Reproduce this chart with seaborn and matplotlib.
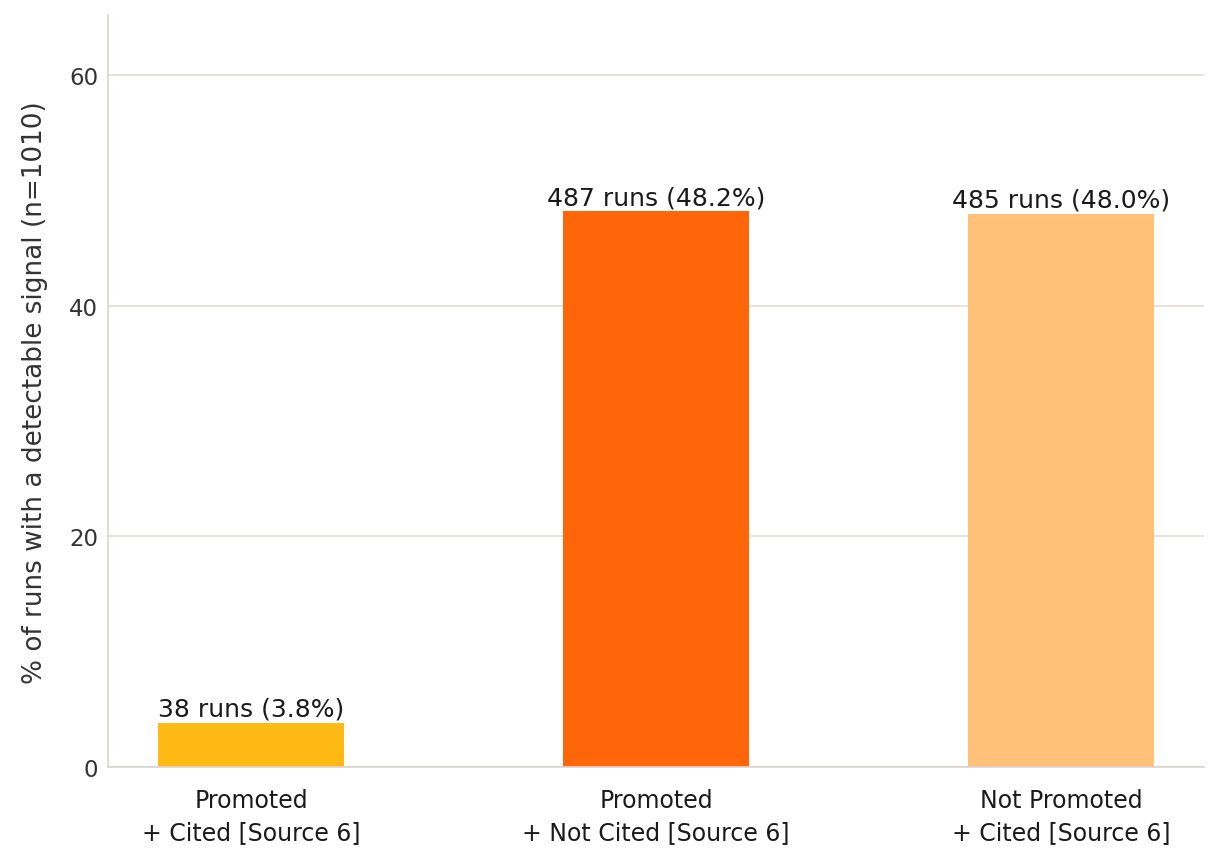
import matplotlib
matplotlib.use("Agg")
import matplotlib.pyplot as plt
import seaborn as sns
import pandas as pd

categories = ["Promoted\n+ Cited [Source 6]",
              "Promoted\n+ Not Cited [Source 6]",
              "Not Promoted\n+ Cited [Source 6]"]
runs = [38, 487, 485]
percent = [3.8, 48.2, 48.0]
total_runs = 1010
colors = ["#FFB915", "#FF660A", "#FFC078"]

sns.set_theme(style="whitegrid")
plt.rcParams['font.family'] = ['DejaVu Sans']

df = pd.DataFrame({"category": categories, "pct": percent})

fig, ax = plt.subplots(figsize=(12.22, 8.62), dpi=100)
fig.subplots_adjust(left=0.0884, right=0.9853, top=0.981, bottom=0.109)

sns.barplot(data=df, x="category", y="pct", hue="category", palette=colors,
            legend=False, width=0.46, saturation=1, linewidth=0, ax=ax)

for i, (r, p) in enumerate(zip(runs, percent)):
    ax.text(i, p + 0.2, f"{r} runs ({p:.1f}%)", ha="center", va="bottom",
            fontsize=18, color="#1a1a1a")

ax.set_ylim(0, 65.2)
ax.set_xlim(-0.353, 2.353)
ax.set_yticks([0, 20, 40, 60])
ax.set_xlabel("")
ax.set_ylabel(f"% of runs with a detectable signal (n={total_runs})",
              fontsize=18.9, color="#333333", labelpad=15)
ax.tick_params(axis="y", labelsize=16.5, colors="#333333", length=0, pad=7)
ax.tick_params(axis="x", labelsize=17, colors="#1a1a1a", length=0, pad=15)
for lab in ax.get_xticklabels():
    lab.set_linespacing(1.42)
ax.grid(axis="y", color="#E6DDD3", linewidth=1.2)
ax.grid(axis="x", visible=False)
sns.despine(ax=ax)
for s in ["left", "bottom"]:
    ax.spines[s].set_color("#DDD3CF")
    ax.spines[s].set_linewidth(1.2)

fig.savefig("out.png", dpi=100)
